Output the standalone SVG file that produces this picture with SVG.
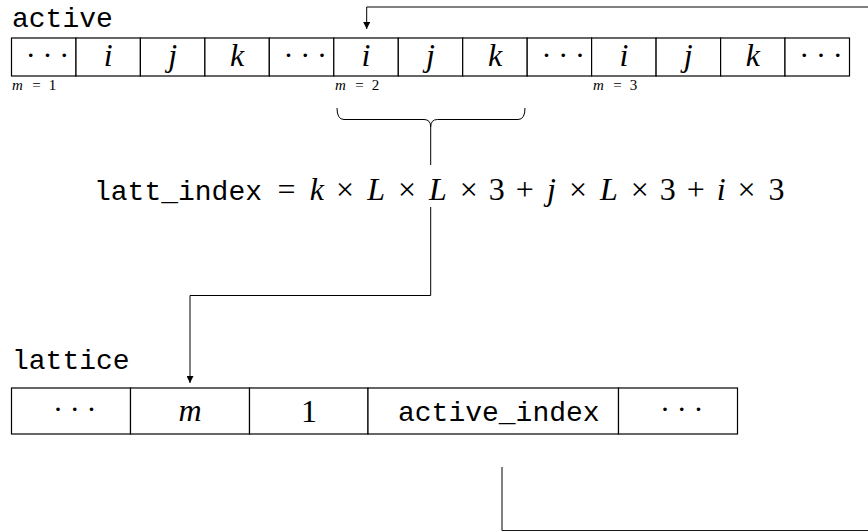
<svg xmlns="http://www.w3.org/2000/svg" width="868" height="531" viewBox="0 0 868 531">
<style>
.cell{fill:#fff;stroke:#000;stroke-width:1.2}
.tt{font-family:"Liberation Mono","DejaVu Sans Mono",monospace;font-size:28px;fill:#000}
.mi{font-family:"Liberation Serif","DejaVu Serif",serif;font-style:italic;font-size:32px;fill:#000;text-anchor:middle}
.mr{font-family:"Liberation Serif","DejaVu Serif",serif;font-size:32px;fill:#000;text-anchor:middle}
.dots{font-family:"Liberation Serif","DejaVu Serif",serif;font-size:30px;letter-spacing:6.8px;fill:#000}
.sm{font-family:"Liberation Serif","DejaVu Serif",serif;font-size:15px;fill:#000}
.conn{fill:none;stroke:#000;stroke-width:1}
</style>
<defs>
<marker id="ah" viewBox="0 0 10 10" refX="10" refY="5" markerWidth="7" markerHeight="7" markerUnits="userSpaceOnUse" orient="auto">
<path d="M0,0 L10,5 L0,10 z" fill="#000"/>
</marker>
</defs>

<g id="active-label"><text class="tt" x="12" y="27">active</text></g>

<g id="active-array">
<rect class="cell" x="11.5" y="38" width="64.5" height="38"/>
<rect class="cell" x="76" y="38" width="64.4" height="38"/>
<rect class="cell" x="140.4" y="38" width="64.5" height="38"/>
<rect class="cell" x="204.9" y="38" width="64.4" height="38"/>
<rect class="cell" x="269.3" y="38" width="64.5" height="38"/>
<rect class="cell" x="333.8" y="38" width="64.5" height="38"/>
<rect class="cell" x="398.3" y="38" width="64.4" height="38"/>
<rect class="cell" x="462.7" y="38" width="64.5" height="38"/>
<rect class="cell" x="527.2" y="38" width="64.4" height="38"/>
<rect class="cell" x="591.6" y="38" width="64.5" height="38"/>
<rect class="cell" x="656.1" y="38" width="64.5" height="38"/>
<rect class="cell" x="720.6" y="38" width="64.4" height="38"/>
<rect class="cell" x="785" y="38" width="64.5" height="38"/>
<text class="dots" x="25.7" y="64.8">···</text>
<text class="mi" x="108.2" y="66">i</text>
<text class="mi" x="172.7" y="66">j</text>
<text class="mi" x="237.1" y="66">k</text>
<text class="dots" x="283.5" y="64.8">···</text>
<text class="mi" x="366" y="66">i</text>
<text class="mi" x="430.5" y="66">j</text>
<text class="mi" x="495" y="66">k</text>
<text class="dots" x="541.4" y="64.8">···</text>
<text class="mi" x="623.9" y="66">i</text>
<text class="mi" x="688.3" y="66">j</text>
<text class="mi" x="752.8" y="66">k</text>
<text class="dots" x="799.2" y="64.8">···</text>
</g>

<g id="m-labels">
<text class="sm" y="90"><tspan x="12" font-style="italic">m</tspan><tspan x="36.5" text-anchor="middle">=</tspan><tspan x="52.5" text-anchor="middle">1</tspan></text>
<text class="sm" y="90"><tspan x="335" font-style="italic">m</tspan><tspan x="359.5" text-anchor="middle">=</tspan><tspan x="375.5" text-anchor="middle">2</tspan></text>
<text class="sm" y="90"><tspan x="593" font-style="italic">m</tspan><tspan x="617.5" text-anchor="middle">=</tspan><tspan x="633.5" text-anchor="middle">3</tspan></text>
</g>

<g id="brace">
<path class="conn" d="M337,108 Q337,119.5 344,119.5 L424,119.5 Q430.7,119.5 430.7,127 Q430.7,119.5 437.4,119.5 L518,119.5 Q525,119.5 525,108"/>
</g>

<g id="formula">
<text class="tt" x="94" y="200">latt_index</text>
<text y="200">
<tspan class="mr" x="288.6">=</tspan>
<tspan class="mi" x="318.8">k</tspan>
<tspan class="mr" x="347.1">×</tspan>
<tspan class="mi" x="378.1">L</tspan>
<tspan class="mr" x="409">×</tspan>
<tspan class="mi" x="439.9">L</tspan>
<tspan class="mr" x="470.8">×</tspan>
<tspan class="mr" x="498.8">3</tspan>
<tspan class="mr" x="526.8">+</tspan>
<tspan class="mi" x="553.4">j</tspan>
<tspan class="mr" x="579.9">×</tspan>
<tspan class="mi" x="610.8">L</tspan>
<tspan class="mr" x="641.8">×</tspan>
<tspan class="mr" x="669.7">3</tspan>
<tspan class="mr" x="697.7">+</tspan>
<tspan class="mi" x="723.2">i</tspan>
<tspan class="mr" x="748.6">×</tspan>
<tspan class="mr" x="776.6">3</tspan>
</text>
</g>

<g id="lattice-label"><text class="tt" x="12" y="369">lattice</text></g>

<g id="lattice-array">
<rect class="cell" x="11.5" y="388" width="119" height="46"/>
<rect class="cell" x="130.5" y="388" width="119" height="46"/>
<rect class="cell" x="249.5" y="388" width="118.5" height="46"/>
<rect class="cell" x="368" y="388" width="250.5" height="46"/>
<rect class="cell" x="618.5" y="388" width="119" height="46"/>
<text class="dots" x="53" y="419">···</text>
<text class="mi" x="190" y="421">m</text>
<text class="mr" x="309" y="422">1</text>
<text class="tt" x="398" y="421">active_index</text>
<text class="dots" x="660" y="419">···</text>
</g>

<g id="connectors">
<path class="conn" d="M868,7 L366.7,7 L366.7,29" marker-end="url(#ah)"/>
<path class="conn" d="M430.7,127 L430.7,165"/>
<path class="conn" d="M430.7,207 L430.7,295.5 L190,295.5 L190,383" marker-end="url(#ah)"/>
<path class="conn" d="M502,467 L502,530.6 L868,530.6" stroke-width="1.2"/>
</g>
</svg>
